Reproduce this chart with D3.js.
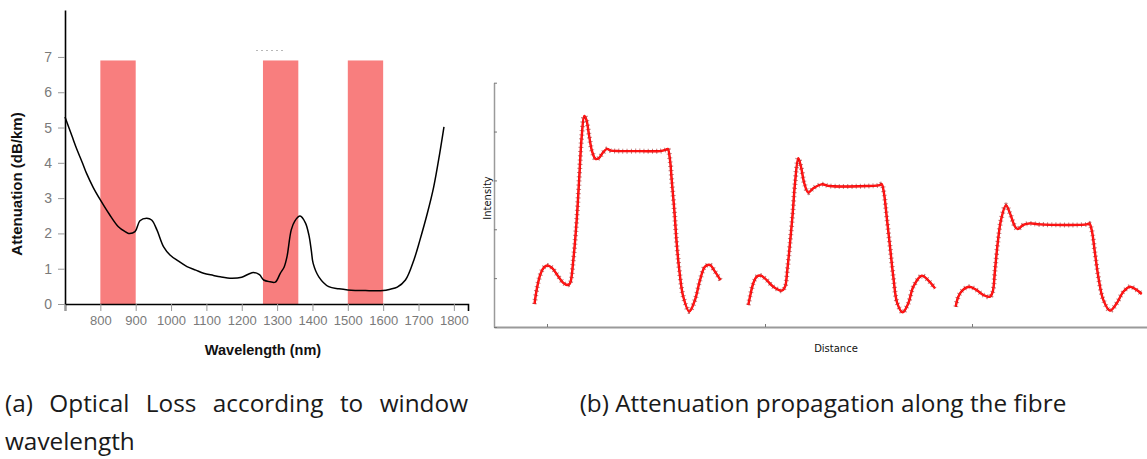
<!DOCTYPE html>
<html>
<head>
<meta charset="utf-8">
<script src="https://cdn.jsdelivr.net/npm/d3@7"></script>
<style>
  html, body { margin: 0; padding: 0; background: #fff; }
  svg { display: block; }
</style>
</head>
<body>
<svg id="fig" width="1147" height="459"></svg>
<script>
// ---- (a) optical loss vs wavelength ----
const wavelength = [700, 720, 731, 750, 761, 780, 800, 825, 851, 870, 880, 898, 912, 931, 945, 960, 979, 997,
  1020, 1045, 1070, 1092, 1120, 1139, 1172, 1200, 1220, 1233, 1250, 1262, 1280, 1295, 1309, 1320, 1328, 1340,
  1350, 1365, 1380, 1390, 1397, 1402, 1418, 1446, 1475, 1500, 1550, 1600, 1620, 1640, 1663, 1687, 1704, 1725,
  1743, 1760, 1772];
const attenuation = [5.3, 4.75, 4.45, 3.98, 3.7, 3.3, 2.95, 2.55, 2.19, 2.05, 2.0, 2.05, 2.36, 2.43, 2.38, 2.1, 1.62, 1.39,
  1.22, 1.06, 0.96, 0.87, 0.81, 0.77, 0.73, 0.76, 0.85, 0.89, 0.83, 0.68, 0.63, 0.62, 0.87, 1.05, 1.34, 2.1,
  2.35, 2.49, 2.3, 1.95, 1.5, 1.15, 0.77, 0.49, 0.43, 0.4, 0.38, 0.38, 0.42, 0.48, 0.68, 1.25, 1.81, 2.57,
  3.32, 4.27, 5.02];
// transmission windows [from, to] in nm, drawn up to windowTop dB/km
const windows = [[800, 900], [1260, 1360], [1500, 1600]];
const windowTop = 6.9;
const wlTicks = [700, 800, 900, 1000, 1100, 1200, 1300, 1400, 1500, 1600, 1700, 1800];
const attTicks = [0, 1, 2, 3, 4, 5, 6, 7];

// ---- (b) pulse intensity along the fibre: [distance, intensity] ----
const pulse1 = [[40.5, 9.4], [43, 16.0], [46.5, 21.7], [50, 24.4], [53.5, 25.2], [58, 24.2], [64, 20.9], [69, 18.2],
  [73.5, 17.2], [76, 17.9], [79.3, 27.4], [82.7, 43.8], [85.3, 61.5], [87.7, 77.9], [90.3, 86.4], [92.5, 84.7],
  [95, 78.6], [98, 72.0], [101.5, 68.8], [105, 69.2], [109, 71.4], [113, 72.9], [117, 72.2], [126, 72.0],
  [146, 72.0], [166, 72.0], [171.5, 72.5], [173.7, 72.9], [176, 68.4], [177.7, 60.2], [180.3, 47.9],
  [182.7, 34.3], [185.3, 23.3], [189.3, 12.4], [195.3, 6.3], [201, 11.1], [206, 19.2], [211, 24.7],
  [216, 25.4], [220, 23.3], [226.5, 19.2]];
const pulse2 = [[254.3, 9.0], [256, 12.4], [259.3, 17.9], [262.7, 20.6], [267, 21.0], [272.7, 19.2], [279.3, 16.5],
  [287.7, 14.9], [291, 16.5], [293.3, 23.3], [296, 34.3], [298.7, 46.5], [301, 58.8], [304.3, 69.1],
  [307, 65.6], [310.3, 58.8], [314.3, 55.0], [319.3, 56.8], [327.7, 58.4], [336, 57.7], [372.7, 57.7],
  [386, 58.1], [387.7, 58.5], [390, 54.7], [392.7, 45.1], [396, 32.9], [399.3, 20.6], [403.3, 9.7],
  [408.7, 6.0], [414.3, 9.7], [419.3, 16.5], [427.7, 21.0], [434, 19.2], [441, 15.8]];
const pulse3 = [[461.7, 8.3], [464.3, 12.4], [468.7, 15.1], [475.3, 16.5], [482.7, 15.1], [489.3, 13.1], [496, 12.4],
  [498.7, 14.4], [501, 23.3], [503.7, 34.3], [507, 43.8], [512, 49.9], [516, 46.5], [521, 41.1],
  [523.7, 40.1], [529.3, 41.8], [536, 42.4], [546, 42.0], [592.7, 42.0], [595.3, 42.4], [597.7, 39.7],
  [601, 30.2], [604.3, 20.6], [609.3, 11.1], [616, 6.7], [622.7, 9.7], [629.3, 14.4], [636, 16.5],
  [642.7, 15.1], [647.7, 13.5]];
const pulses = [pulse1, pulse2, pulse3];
const distTicks = [53, 271, 478];
const intTicks = [0, 20, 40, 60, 80, 100];

const captionA = ["(a)", "Optical", "Loss", "according", "to", "window"];
const captionA2 = "wavelength";
const captionB = "(b) Attenuation propagation along the fibre";

const svg = d3.select("#fig");

// ================= panel (a) =================
const xA = d3.scaleLinear().domain([700, 1840]).range([65, 468]);
const yA = d3.scaleLinear().domain([0, 8.33]).range([304, 10]);
const gA = svg.append("g");

gA.selectAll("rect.win").data(windows).join("rect")
  .attr("class", "win")
  .attr("x", d => xA(d[0]))
  .attr("width", d => xA(d[1]) - xA(d[0]))
  .attr("y", yA(windowTop))
  .attr("height", yA(0) - yA(windowTop))
  .attr("fill", "#f87e7e");

// faint remnants above the windows
gA.append("line")
  .attr("x1", 256).attr("x2", 284).attr("y1", 50.5).attr("y2", 50.5)
  .attr("stroke", "#b8b8b8").attr("stroke-width", 1).attr("stroke-dasharray", "2 3");

const lossLine = d3.line()
  .x((d, i) => xA(wavelength[i]))
  .y(d => yA(d))
  .curve(d3.curveCatmullRom.alpha(0.5));
gA.append("path")
  .attr("d", lossLine(attenuation))
  .attr("fill", "none")
  .attr("stroke", "#000")
  .attr("stroke-width", 1.5);

// x axis
const axXA = gA.append("g").attr("transform", `translate(0,${yA(0)})`)
  .call(d3.axisBottom(xA).tickValues(wlTicks).tickSize(7).tickPadding(5)
    .tickFormat(d => d === 700 ? "" : d));
axXA.select(".domain").attr("stroke", "#000").attr("stroke-width", 1.6);
axXA.selectAll(".tick line").attr("stroke", "#999");
axXA.selectAll(".tick text").attr("fill", "#7a7a7a")
  .style("font-family", "'Liberation Sans', Arial, sans-serif").style("font-size", "13px");

// y axis
const axYA = gA.append("g").attr("transform", `translate(${xA(700)},0)`)
  .call(d3.axisLeft(yA).tickValues(attTicks).tickSize(7).tickPadding(6).tickSizeOuter(0));
axYA.select(".domain").attr("stroke", "#000").attr("stroke-width", 1.6);
axYA.selectAll(".tick line").attr("stroke", "#999");
axYA.selectAll(".tick text").attr("fill", "#7a7a7a")
  .style("font-family", "'Liberation Sans', Arial, sans-serif").style("font-size", "14px");

gA.append("text")
  .attr("x", 263).attr("y", 355)
  .attr("text-anchor", "middle")
  .style("font-family", "'Liberation Sans', Arial, sans-serif")
  .style("font-size", "14.5px").style("font-weight", "bold")
  .attr("fill", "#111")
  .text("Wavelength (nm)");

gA.append("text")
  .attr("transform", "translate(22,184) rotate(-90)")
  .attr("text-anchor", "middle")
  .style("font-family", "'Liberation Sans', Arial, sans-serif")
  .style("font-size", "15px").style("font-weight", "bold")
  .attr("fill", "#111")
  .text("Attenuation (dB/km)");

// ================= panel (b) =================
const xB = d3.scaleLinear().domain([0, 653]).range([494, 1147]);
const yB = d3.scaleLinear().domain([0, 100]).range([327, 82.7]);
const gB = svg.append("g");

const axXB = gB.append("g").attr("transform", `translate(0,${yB(0)})`)
  .call(d3.axisTop(xB).tickValues(distTicks).tickSize(3).tickSizeOuter(0).tickFormat(""));
axXB.select(".domain").attr("stroke", "#9a9a9a").attr("stroke-width", 1.8);
axXB.selectAll(".tick line").attr("stroke", "#777");

const axYB = gB.append("g").attr("transform", `translate(${xB(0)},0)`)
  .call(d3.axisRight(yB).tickValues(intTicks).tickSize(3).tickSizeOuter(0).tickFormat(""));
axYB.select(".domain").attr("stroke", "#9a9a9a").attr("stroke-width", 1.5);
axYB.selectAll(".tick line").attr("stroke", "#777");

const pulseLine = d3.line()
  .x(d => xB(d[0]))
  .y(d => yB(d[1]))
  .curve(d3.curveCatmullRom.alpha(0.5));

const gP = gB.selectAll("g.pulse").data(pulses).join("g").attr("class", "pulse");
gP.append("path")
  .attr("d", pulseLine)
  .attr("fill", "none")
  .attr("stroke", "#ff0000")
  .attr("stroke-width", 2.4)
  .attr("stroke-linejoin", "round");
// "+" markers along each trace
gP.append("path")
  .attr("d", pulseLine)
  .attr("fill", "none")
  .attr("stroke", "rgba(150,20,20,0.55)")
  .attr("stroke-width", 5)
  .attr("stroke-dasharray", "1 3.2");
gP.append("path")
  .attr("d", pulseLine)
  .attr("fill", "none")
  .attr("stroke", "#ff1a1a")
  .attr("stroke-width", 1.3);

gB.append("text")
  .attr("x", 836).attr("y", 352)
  .attr("text-anchor", "middle")
  .style("font-family", "'DejaVu Sans', sans-serif").style("font-size", "10px")
  .attr("fill", "#111")
  .text("Distance");

gB.append("text")
  .attr("transform", "translate(490.5,198) rotate(-90)")
  .attr("text-anchor", "middle")
  .style("font-family", "'DejaVu Sans', sans-serif").style("font-size", "10px")
  .attr("fill", "#111")
  .text("Intensity");

// ================= captions =================
const capFont = "'Open Sans', 'Noto Sans', sans-serif";
const capB = svg.append("text")
  .attr("x", 823).attr("y", 412)
  .attr("text-anchor", "middle")
  .style("font-family", capFont).style("font-size", "20px")
  .attr("fill", "#1a1a1a")
  .text(captionB);
const capSize = 20 * 487 / capB.node().getComputedTextLength();
capB.style("font-size", capSize + "px");

// first caption line is justified across the panel width
const left = 5, right = 468;
const words = svg.append("g").selectAll("text").data(captionA).join("text")
  .attr("y", 412)
  .style("font-family", capFont).style("font-size", capSize + "px")
  .attr("fill", "#1a1a1a")
  .text(d => d);
const widths = words.nodes().map(n => n.getComputedTextLength());
const gap = (right - left - d3.sum(widths)) / (captionA.length - 1);
let cx = left;
words.each(function (d, i) {
  d3.select(this).attr("x", cx);
  cx += widths[i] + gap;
});
svg.append("text")
  .attr("x", left).attr("y", 450)
  .style("font-family", capFont).style("font-size", capSize + "px")
  .attr("fill", "#1a1a1a")
  .text(captionA2);
</script>
</body>
</html>
